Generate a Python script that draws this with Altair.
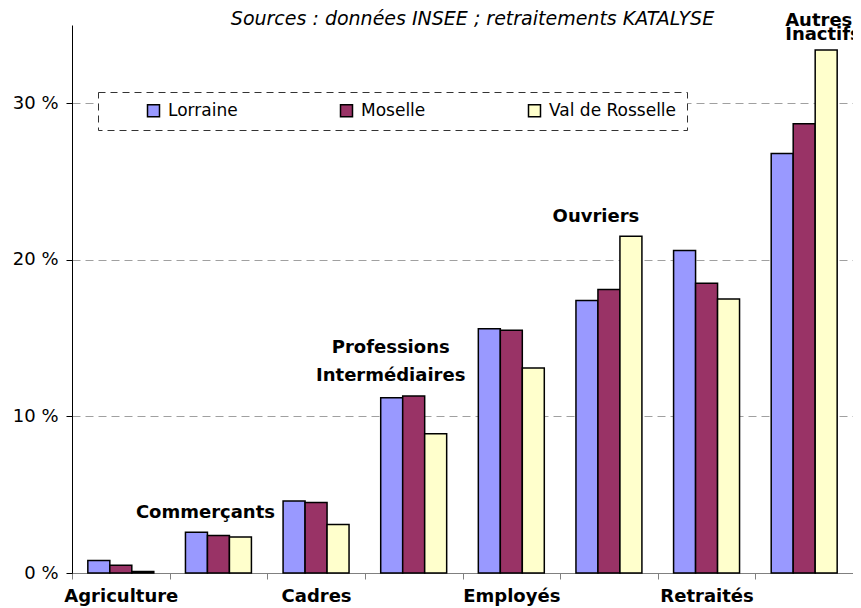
import json
import altair as alt
import pandas as pd

# ---- data ----
categories = ["Agriculture", "Commerçants", "Cadres", "Professions Intermédiaires",
              "Employés", "Ouvriers", "Retraités", "Autres Inactifs"]
series = ["Lorraine", "Moselle", "Val de Rosselle"]
lorraine = [0.8, 2.6, 4.6, 11.2, 15.6, 17.4, 20.6, 26.8]
moselle = [0.5, 2.4, 4.5, 11.3, 15.5, 18.1, 18.5, 28.7]
val_de_rosselle = [0.1, 2.3, 3.1, 8.9, 13.1, 21.5, 17.5, 33.4]
colors = ["#9999FF", "#993366", "#FFFFCC"]
y_ticks = [0, 10, 20, 30]
source_text = "Sources : données INSEE ; retraitements KATALYSE"

rows = []
for s, vals in zip(series, [lorraine, moselle, val_de_rosselle]):
    for c, v in zip(categories, vals):
        rows.append({"category": c, "series": s, "value": v})
df = pd.DataFrame(rows)

bottom_labels = categories[0::2]
top_idx = list(range(1, len(categories), 2))
tops = pd.DataFrame({
    "category": [categories[i] for i in top_idx],
    "label": [categories[i].replace(" ", "\n") for i in top_idx],
    "top": [max(lorraine[i], moselle[i], val_de_rosselle[i]) for i in top_idx],
})
two_line_cat = categories[3]
last_cat = categories[-1]

FONT = "DejaVu Sans"

x_enc = alt.X(
    "category:N", sort=categories,
    scale=alt.Scale(paddingInner=0, paddingOuter=0),
    axis=alt.Axis(
        title=None, labelAngle=0,
        labelExpr="indexof(" + json.dumps(bottom_labels, ensure_ascii=False) + ", datum.value) >= 0 ? datum.value : ''",
        labelFont=FONT, labelFontWeight="bold", labelFontSize=18, labelColor="black",
        labelPadding=8, labelLimit=300, tickBand="extent", tickSize=6,
        tickColor="#808080", domainColor="#808080", grid=False,
    ),
)
y_enc = alt.Y(
    "value:Q",
    scale=alt.Scale(domain=[0, 35], nice=False),
    axis=alt.Axis(
        title=None, values=y_ticks, labelExpr="datum.value + ' %'",
        grid=True, gridDash=[8, 5], gridColor="#A0A0A0",
        domainColor="black", tickColor="black", tickSize=6,
        labelFont=FONT, labelFontSize=18, labelColor="black", labelPadding=8,
    ),
)

bars = alt.Chart(df).mark_bar(stroke="black", strokeWidth=1.5).encode(
    x=x_enc,
    xOffset=alt.XOffset("series:N", sort=series,
                        scale=alt.Scale(paddingInner=0, paddingOuter=0.72)),
    y=y_enc,
    color=alt.Color(
        "series:N", sort=series,
        scale=alt.Scale(domain=series, range=colors),
        legend=alt.Legend(
            title=" ", titleOrient="left", titlePadding=37, titleFontSize=10,
            orient="none", legendX=26, legendY=67, direction="horizontal",
            columns=3, columnPadding=99, padding=10,
            strokeColor="#333333", fillColor="white",
            symbolType="square", symbolSize=144, symbolStrokeColor="black",
            symbolStrokeWidth=1.5, symbolOpacity=1,
            labelFont=FONT, labelFontSize=17, labelColor="black", labelOffset=6,
        ),
    ),
)


def label_layer(filt, **style):
    return alt.Chart(tops).transform_filter(filt).mark_text(
        font=FONT, fontWeight="bold", fontSize=18, color="black",
        baseline="bottom", lineBreak="\n", **style,
    ).encode(
        x=alt.X("category:N", sort=categories),
        y=alt.Y("top:Q"),
        text="label:N",
    )


single_labels = label_layer(
    (alt.datum.category != last_cat) & (alt.datum.category != two_line_cat),
    align="center", dx=-13, dy=-10,
)
two_line_label = label_layer(
    alt.datum.category == two_line_cat,
    align="center", lineHeight=28, dx=-23, dy=-39,
)
last_label = label_layer(
    alt.datum.category == last_cat,
    align="left", lineHeight=14, dx=-19, dy=-20,
)

chart = alt.layer(bars, single_labels, two_line_label, last_label).properties(
    width=781, height=548,
    autosize=alt.AutoSizeParams(type="none"),
    padding={"left": 64, "top": 17, "right": 0, "bottom": 33},
    title=alt.TitleParams(
        text=source_text, font=FONT, fontSize=19, fontStyle="italic",
        fontWeight="normal", anchor="middle", dx=10, dy=17, offset=0, color="black",
    ),
).configure_view(stroke="transparent").configure_legend(strokeDash=[7, 5])

chart.save("out.html", embed_options={"renderer": "svg", "actions": False})
